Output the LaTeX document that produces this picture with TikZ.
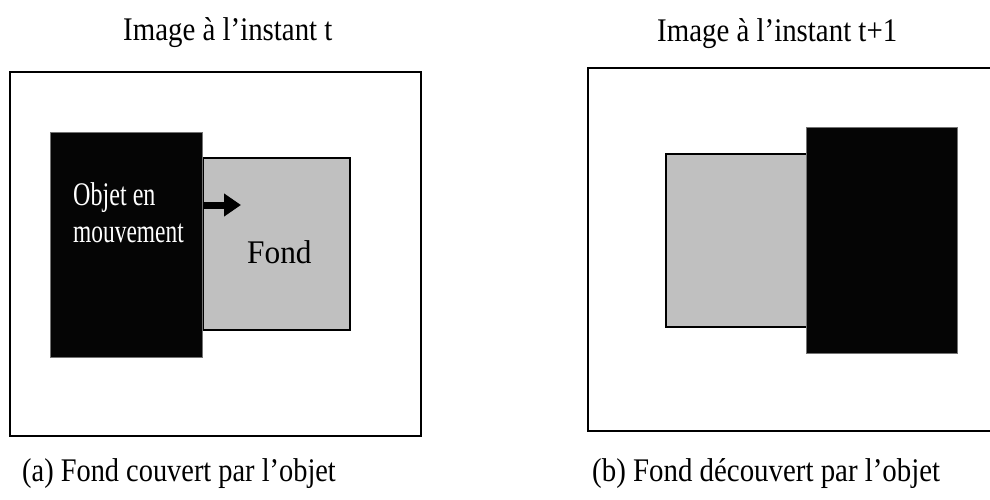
\documentclass[tikz,border=0pt]{standalone}
\usepackage{fontspec}
\setmainfont{Liberation Serif}
\usetikzlibrary{arrows.meta}
\definecolor{fondgray}{HTML}{C0C0C0}
\definecolor{objblack}{HTML}{050505}
\begin{document}
\begin{tikzpicture}[x=1pt,y=-1pt,
  frame/.style={draw=black, line width=2pt, fill=white, inner sep=0pt, anchor=north west},
  bgbox/.style={draw=black, line width=1.5pt, fill=fondgray, inner sep=0pt, anchor=north west},
  objbox/.style={draw=black!55, line width=0.8pt, fill=objblack, inner sep=0pt, anchor=north west},
  lab/.style={font=\fontsize{33}{36}\selectfont, inner sep=0pt, anchor=base west},
  movearrow/.style={line width=7pt, -{Triangle[length=17pt,width=22pt]}},
]
\useasboundingbox (0,0) rectangle (990,500);
% frames
\node[frame, minimum width=411pt, minimum height=364pt] (frameA) at (9,71) {};
\node[frame, minimum width=410pt, minimum height=363pt] (frameB) at (587,67) {};
% left picture
\node[bgbox, minimum width=147pt, minimum height=172pt] (fondA) at (202,157) {};
\node[objbox, minimum width=152pt, minimum height=225pt] (objA) at (50,132) {};
\coordinate (arrowEnd) at (241,205);
\draw[movearrow] (objA.east |- arrowEnd) -- (arrowEnd);
\node[lab, text=white] (objTxt1) at (73,205) {\scalebox{0.73}[1]{Objet en}};
\node[lab, text=white] (objTxt2) at (73,242) {\scalebox{0.71}[1]{mouvement}};
\node[lab] (fondTxt) at (247,263) {\scalebox{0.95}[1]{Fond}};
% right picture
\node[bgbox, minimum width=141pt, minimum height=173pt] (fondB) at (665,153) {};
\node[objbox, minimum width=151pt, minimum height=226pt] (objB) at (806,127) {};
% titles
\node[lab] (titleA) at (123,41) {\scalebox{0.875}[1]{Image à l'instant t}};
\node[lab] (titleB) at (657,42) {\scalebox{0.875}[1]{Image à l'instant t+1}};
% captions
\node[lab] (capA) at (22,481) {\scalebox{0.86}[1]{(a) Fond couvert par l'objet}};
\node[lab] (capB) at (592,481) {\scalebox{0.875}[1]{(b) Fond découvert par l'objet}};
\end{tikzpicture}
\end{document}
